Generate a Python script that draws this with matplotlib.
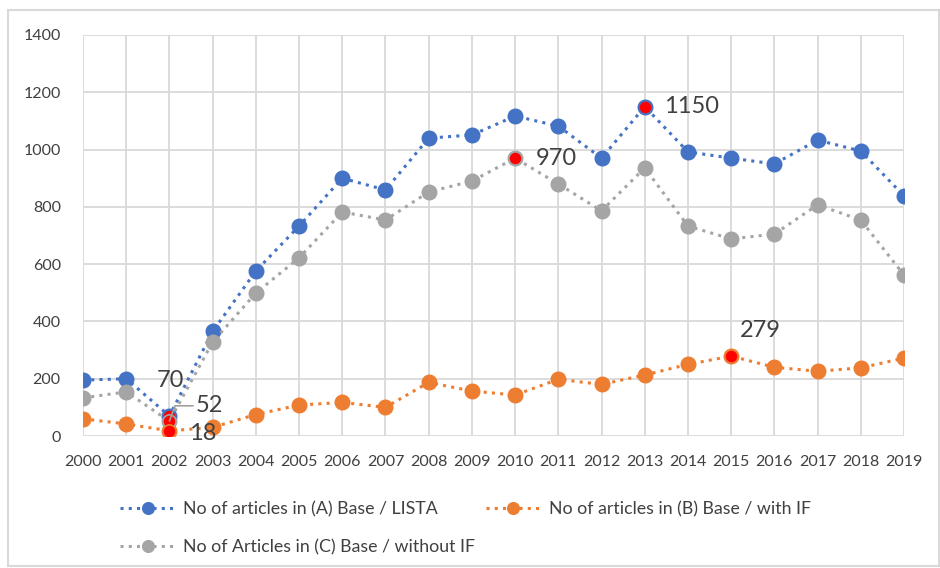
import matplotlib.pyplot as plt
from matplotlib.patches import Rectangle

plt.rcParams["font.family"] = ["Lato", "DejaVu Sans"]

years = [str(y) for y in range(2000, 2020)]
base_a = [195, 200, 70, 365, 576, 733, 900, 859, 1040, 1051,
          1117, 1082, 970, 1150, 992, 970, 950, 1033, 995, 838]
base_b = [60, 42, 18, 30, 75, 108, 117, 100, 187, 157,
          143, 198, 180, 213, 250, 279, 240, 226, 238, 272]
base_c = [133, 154, 52, 328, 499, 622, 782, 754, 852, 890,
          970, 880, 786, 936, 733, 688, 705, 807, 754, 562]

labels = ["No of articles in (A) Base / LISTA",
          "No of articles in (B) Base / with IF",
          "No of Articles in (C) Base / without IF"]

# highlighted points: (series, year index)
highlights = [("a", 2), ("c", 2), ("b", 2), ("c", 10), ("a", 13), ("b", 15)]

BLUE = "#4472c4"
ORANGE = "#ed7d31"
GRAY = "#a5a5a5"
TEXT = "#404040"

fig = plt.figure(figsize=(9.4, 5.68), dpi=100)
ax = fig.add_axes([83 / 940, 1 - 436 / 568, 821 / 940, 401 / 568])

x = list(range(len(years)))
series = {"a": (base_a, BLUE), "b": (base_b, ORANGE), "c": (base_c, GRAY)}
handles = {}
for key, lab in zip(["a", "b", "c"], labels):
    vals, col = series[key]
    h, = ax.plot(x, vals, linestyle=(0, (1, 1.7)), linewidth=2.2, color=col,
                 marker="o", markersize=10.5, markeredgecolor=col, label=lab,
                 zorder=3)
    handles[key] = h

for key, i in highlights:
    vals, col = series[key]
    ax.plot(x[i], vals[i], marker="o", markersize=9.5, color="#ff0000",
            markeredgecolor=col, markeredgewidth=1.2, linestyle="none", zorder=4)

ann = dict(fontsize=17, color=TEXT, zorder=5)
ax.annotate("70", (x[2], base_a[2]), xytext=(-9, 18), textcoords="offset points",
            ha="left", va="bottom", **ann)
ax.annotate("52", (x[2], base_c[2]), xytext=(19, 11), textcoords="offset points",
            ha="left", va="center",
            arrowprops=dict(arrowstyle="-", color="#a0a0a0", lw=1.2,
                            shrinkA=0, shrinkB=0,
                            connectionstyle="angle,angleA=0,angleB=70,rad=0"),
            **ann)
ax.annotate("18", (x[2], base_b[2]), xytext=(14, -2), textcoords="offset points",
            ha="left", va="center", **ann)
ax.annotate("970", (x[10], base_c[10]), xytext=(15, 0), textcoords="offset points",
            ha="left", va="center", **ann)
ax.annotate("1150", (x[13], base_a[13]), xytext=(14, 0), textcoords="offset points",
            ha="left", va="center", **ann)
ax.annotate("279", (x[15], base_b[15]), xytext=(6, 11), textcoords="offset points",
            ha="left", va="bottom", **ann)

ax.set_xlim(0, len(years) - 1)
ax.set_ylim(0, 1400)
ax.set_xticks(x)
ax.set_xticklabels(years)
ax.set_yticks(range(0, 1401, 200))
ax.tick_params(axis="both", length=0, labelsize=11.5, labelcolor=TEXT)
ax.tick_params(axis="x", pad=14)
ax.tick_params(axis="y", pad=16)
ax.grid(True, color="#d9d9d9", linewidth=1.3, zorder=0)
ax.set_axisbelow(True)
for s in ax.spines.values():
    s.set_visible(False)

leg = fig.legend([handles["a"], handles["c"], handles["b"]],
                 [labels[0], labels[2], labels[1]],
                 ncol=2, loc="upper left", bbox_to_anchor=(104 / 940, 1 - 485 / 568),
                 frameon=False, fontsize=12.8, handlelength=3.1,
                 columnspacing=0.6, labelspacing=1.25, markerscale=0.8,
                 handletextpad=0.45)
for t in leg.get_texts():
    t.set_color(TEXT)

fig.patches.append(Rectangle((8 / 940, 2 / 568), 931 / 940, 556 / 568,
                             transform=fig.transFigure, fill=False,
                             edgecolor="#d9d9d9", linewidth=1.5))

fig.savefig("out.png", dpi=100)
